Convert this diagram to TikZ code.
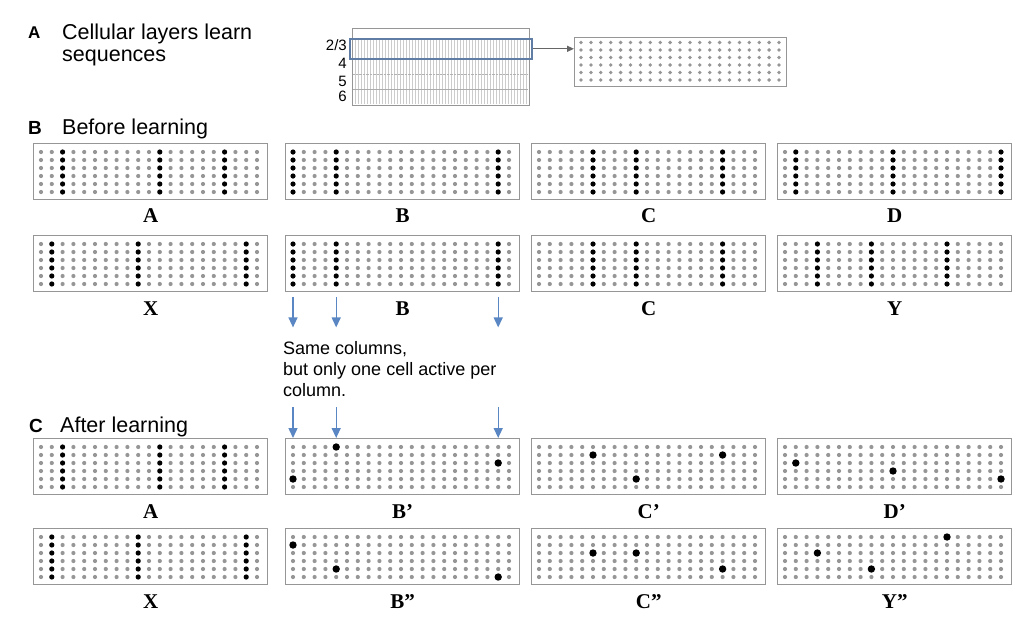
\documentclass[tikz,border=0pt]{standalone}
\usepackage{fontspec}
\setmainfont{Liberation Sans}
\newfontfamily\seqfont{Liberation Serif}
\usepackage{tikz}
\usetikzlibrary{arrows.meta,positioning}
\usepackage{xcolor}

\definecolor{framegray}{RGB}{150,150,150}
\definecolor{idlegray}{RGB}{150,150,150}
\definecolor{arrowblue}{RGB}{90,135,195}
\definecolor{layerblue}{RGB}{95,125,165}

% grey cells of one sheet: 21 columns x 6 rows
\newcommand{\cellsheet}[1]{%
  \foreach \ci in {1,...,21}
    \foreach \ri in {1,...,6}
      \fill[idlegray] ([xshift={8pt+(\ci-1)*10.8pt}, yshift={-9pt-(\ri-1)*8pt}]#1.north west) circle (2.1pt);%
}
% whole columns bursting
\newcommand{\burstcols}[2]{%
  \foreach \ci in {#2}
    \foreach \ri in {1,...,6}
      \fill ([xshift={8pt+(\ci-1)*10.8pt}, yshift={-9pt-(\ri-1)*8pt}]#1.north west) circle (2.6pt);%
}
% single predicted cells, column/row
\newcommand{\firecells}[2]{%
  \foreach \ci/\ri in {#2}
    \fill ([xshift={8pt+(\ci-1)*10.8pt}, yshift={-9pt-(\ri-1)*8pt}]#1.north west) circle (3.7pt);%
}

\begin{document}
\begin{tikzpicture}[
  x=1pt, y=-1pt,
  letter/.style={font=\bfseries\fontsize{17}{20}\selectfont, inner sep=0},
  heading/.style={font=\fontsize{21.5}{22}\selectfont, align=left, inner sep=0},
  remark/.style={font=\fontsize{18}{21}\selectfont, align=left, inner sep=0},
  layertxt/.style={font=\fontsize{15}{15}\selectfont, inner sep=0},
  seqbox/.style={draw=framegray, line width=1.4pt, anchor=north west, inner sep=0,
                 minimum width=234pt, minimum height=56pt},
  seqlabel/.style={font=\seqfont\bfseries\fontsize{21}{24}\selectfont, inner sep=0,
                   text height=14.2pt, text depth=0pt},
  colarr/.style={-{Triangle[length=10pt,width=9pt]}, line width=1.4pt, draw=arrowblue, fill=arrowblue},
  zoomarr/.style={-{Triangle[length=7pt,width=6pt]}, line width=1.3pt, draw=gray!80!black}
]
\useasboundingbox (0,0) rectangle (1036,622);

% A: cortical column
\node[letter, anchor=base west] (tagA) at (28,38) {A};
\node[heading, anchor=north west] (headA) at (62,24) {Cellular layers learn\\sequences};

\node[draw=framegray, line width=1.3pt, anchor=north west, inner sep=0,
      minimum width=177pt, minimum height=77pt] (cortex) at (352,28) {};
\foreach \x in {355,358,...,526}
  \draw[gray!40, line width=0.5pt] (\x,38) -- (\x,104);
\draw[gray!60, densely dotted] (353,74) -- (528,74);
\draw[gray!65, line width=1pt] (353,89) -- (528,89);
\node[draw=layerblue, line width=1.6pt, anchor=north west, inner sep=0,
      minimum width=182pt, minimum height=20pt] (layer23) at (349,38) {};

\node[layertxt, anchor=base east] (n23) at (347,50) {2/3};
\node[layertxt, anchor=base east] (n4) at (347,68) {4};
\node[layertxt, anchor=base east] (n5) at (347,86.5) {5};
\node[layertxt, anchor=base east] (n6) at (347,101.5) {6};

\node[draw=framegray, line width=1.3pt, anchor=north west, inner sep=0,
      minimum width=212pt, minimum height=49pt] (zoombox) at (574,37) {};
\foreach \ci in {1,...,21}
  \foreach \ri in {1,...,6}
    \fill[idlegray] ([xshift={7pt+(\ci-1)*9.9pt}, yshift={-5.5pt-(\ri-1)*7.5pt}]zoombox.north west) circle (1.9pt);
\draw[zoomarr] (layer23.east) -- (layer23.east -| zoombox.west);

% B: before learning
\node[letter, font=\bfseries\fontsize{19}{22}\selectfont, anchor=base west] (tagB) at (28,134) {B};
\node[heading, anchor=base west] (headB) at (62,134) {Before learning};

\node[seqbox] (bfA) at (33,143) {};
\node[seqbox] (bfB) at (285,143) {};
\node[seqbox] (bfC) at (531,143) {};
\node[seqbox] (bfD) at (777,143) {};
\node[seqbox] (bfX) at (33,235) {};
\node[seqbox] (bfB2) at (285,235) {};
\node[seqbox] (bfC2) at (531,235) {};
\node[seqbox] (bfY) at (777,235) {};

\node[seqlabel, below=8pt of bfA] (lbfA) {A};
\node[seqlabel, below=8pt of bfB] (lbfB) {B};
\node[seqlabel, below=8pt of bfC] (lbfC) {C};
\node[seqlabel, below=8pt of bfD] (lbfD) {D};
\node[seqlabel, below=9pt of bfX] (lbfX) {X};
\node[seqlabel, below=9pt of bfB2] (lbfB2) {B};
\node[seqlabel, below=9pt of bfC2] (lbfC2) {C};
\node[seqlabel, below=9pt of bfY] (lbfY) {Y};

% arrows from the columns of B
\coordinate (cut1) at ([xshift=8pt, yshift=-5pt]bfB2.south west);
\coordinate (cut2) at ([xshift=51.2pt, yshift=-5pt]bfB2.south west);
\coordinate (cut3) at ([xshift=213.2pt, yshift=-5pt]bfB2.south west);
\foreach \k in {1,2,3}
  \draw[colarr] (cut\k) -- ([yshift=-30pt]cut\k);

\node[remark, anchor=north west] (same) at (283,341)
  {Same columns,\\but only one cell active per\\column.};

% C: after learning
\node[letter, font=\bfseries\fontsize{19}{22}\selectfont, anchor=base west] (tagC) at (29,432) {C};
\node[heading, anchor=base west] (headC) at (60,432) {After learning};

\node[seqbox] (afA) at (33,438) {};
\node[seqbox] (afB) at (285,438) {};
\node[seqbox] (afC) at (531,438) {};
\node[seqbox] (afD) at (777,438) {};
\node[seqbox] (afX) at (33,528) {};
\node[seqbox] (afB2) at (285,528) {};
\node[seqbox] (afC2) at (531,528) {};
\node[seqbox] (afY) at (777,528) {};

\node[seqlabel, below=9pt of afA] (lafA) {A};
\node[seqlabel, below=9pt of afB] (lafB) {B’};
\node[seqlabel, below=9pt of afC] (lafC) {C’};
\node[seqlabel, below=9pt of afD] (lafD) {D’};
\node[seqlabel, below=9pt of afX] (lafX) {X};
\node[seqlabel, below=9pt of afB2] (lafB2) {B”};
\node[seqlabel, below=9pt of afC2] (lafC2) {C”};
\node[seqlabel, below=9pt of afY] (lafY) {Y”};

\coordinate (aim1) at ([xshift=8pt]afB.north west);
\coordinate (aim2) at ([xshift=51.2pt]afB.north west);
\coordinate (aim3) at ([xshift=213.2pt]afB.north west);
\foreach \k in {1,2,3}
  \draw[colarr] ([yshift=31pt]aim\k) -- (aim\k);

% cells
\foreach \b in {bfA,bfB,bfC,bfD,bfX,bfB2,bfC2,bfY,afA,afB,afC,afD,afX,afB2,afC2,afY}
  {\cellsheet{\b}}

\burstcols{bfA}{3,12,18}
\burstcols{bfB}{1,5,20}
\burstcols{bfC}{6,10,18}
\burstcols{bfD}{2,11,21}
\burstcols{bfX}{2,10,20}
\burstcols{bfB2}{1,5,20}
\burstcols{bfC2}{6,10,18}
\burstcols{bfY}{4,9,16}
\burstcols{afA}{3,12,18}
\burstcols{afX}{2,10,20}

\firecells{afB}{1/5,5/1,20/3}
\firecells{afC}{6/2,10/5,18/2}
\firecells{afD}{2/3,11/4,21/5}
\firecells{afB2}{1/2,5/5,20/6}
\firecells{afC2}{6/3,10/3,18/5}
\firecells{afY}{4/3,9/5,16/1}
\end{tikzpicture}
\end{document}
